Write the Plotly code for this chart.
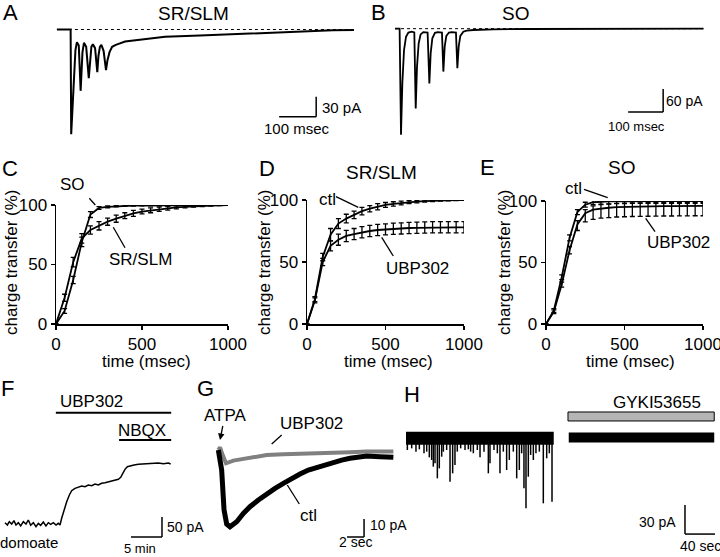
import plotly.graph_objects as go

W, H = 720, 557
FONT = "Arial, Liberation Sans, sans-serif"

# ---- A: SR/SLM evoked train (msec, pA)
a_time_ms = [-38, -1, 0.5, 4, 8, 12, 16, 21, 26, 28, 31, 35, 41, 48, 51, 55, 59, 65, 71, 74,
             78, 82, 88, 94.5, 98.5, 104, 111, 121, 146, 186, 254, 348, 437, 529, 618, 707, 764]
a_current_pa = [0, 0, -157, -121, -61, -31, -19, -24, -92, -61, -34, -20, -26, -73, -46, -26, -22, -28, -64, -40,
                -26, -23, -32, -61, -46, -34, -26, -23, -18, -15, -11, -9, -7, -4.5, -2.5, -1.3, -0.7]

# ---- B: SO evoked train (msec, pA)
b_time_ms = [-17, -4, 0, 3.8, 8.6, 14.3, 21, 30.5, 38, 42, 45.7, 50.5, 56, 63.8, 76, 81, 84.8, 89.5, 97, 105,
             117, 121, 124.8, 129.5, 137, 145, 157, 161, 164.8, 169.5, 178, 187.6, 206.7, 264, 359, 549.5, 864]
b_current_pa = [0, 0, -277, -143, -56, -21, -10, -8, -10, -208, -99, -38, -15, -9, -10, -143, -64, -25, -11, -9,
                -10, -112, -47, -19, -10, -9, -10, -103, -47, -19, -8, -5, -3.5, -1.7, -0.9, 0, 0]

# ---- C, D, E: cumulative charge transfer (%)
t_ms = [0, 50, 100, 150, 200, 250, 300, 350, 400, 450, 500, 550, 600, 650, 700, 750, 800, 850, 900, 950, 1000]

c_so = [0, 11, 37, 69, 92, 97.5, 98.5, 99, 99.3, 99.5, 99.6, 99.7, 99.8, 99.9, 100, 100, 100, 100, 100, 100, 100]
c_so_err = [0, 2, 3, 4, 2.5, 1.2, 0.8, 0.6, 0.5, 0.5, 0.4, 0.4, 0.3, 0.3, 0.3, 0.2, 0.2, 0.2, 0.2, 0.1, 0]
c_sr = [0, 22, 52, 72, 79, 82.5, 86, 88.5, 91, 93, 94.5, 95.5, 96.5, 97.2, 98, 98.5, 99, 99.3, 99.6, 99.8, 100]
c_sr_err = [0, 3, 4, 4, 3.5, 3.5, 3, 3, 2.5, 2.5, 2, 2, 1.8, 1.5, 1.2, 1, 0.8, 0.6, 0.5, 0.3, 0.2]

d_ctl = [0, 20, 54, 72, 81, 85, 88, 91, 93, 94.6, 96, 96.8, 97.6, 98.2, 98.7, 99.1, 99.4, 99.7, 99.8, 99.9, 100]
d_ctl_err = [0, 2, 3, 5, 4, 3.5, 3, 3, 2.5, 2.5, 2, 1.8, 1.5, 1.2, 1, 0.8, 0.6, 0.5, 0.4, 0.3, 0.3]
d_ubp = [0, 19, 50, 63, 68, 71, 72.5, 74, 75, 75.8, 76.3, 76.8, 77.1, 77.4, 77.6, 77.8, 78, 78, 78, 78, 78]
d_ubp_err = [0, 2, 3, 4, 4.5, 4.5, 4.5, 4.5, 4.5, 4.5, 4.5, 4.5, 4.5, 4.5, 4.5, 4.5, 4.5, 4.5, 4.5, 4.5, 4.5]

e_ctl = [0, 11, 38, 70, 91, 97, 99, 99.5, 99.7, 99.8, 99.9, 100, 100, 100, 100, 100, 100, 100, 100, 100, 100]
e_ctl_err = [0, 1.5, 2, 2.5, 2, 2, 2, 2, 2, 2, 2, 2, 2, 2, 2, 2, 2, 2, 2, 2, 2]
e_ubp = [0, 10, 32, 60, 81, 90, 93, 94, 94.5, 95, 95.2, 95.4, 95.5, 95.6, 95.7, 95.8, 95.8, 95.9, 95.9, 96, 96]
e_ubp_err_up = [0, 1.5, 2, 3, 3, 3, 3, 3, 3, 3, 3, 3, 3, 3, 3, 3, 3, 3, 3, 3, 3]
e_ubp_err_down = [0, 1.5, 2, 3, 5, 7, 8, 8, 8, 8, 8, 8, 8, 8, 8, 8, 8, 8, 8, 8, 8]

# ---- F: domoate current (min, pA)
f_time_min = [0, 0.38, 0.70, 1.08, 1.45, 1.77, 2.15, 2.53, 2.96, 3.39, 3.76, 4.14, 4.57, 5.0, 5.38, 5.75,
              6.18, 6.61, 6.99, 7.37, 7.80, 8.23, 8.60, 8.87, 9.14, 9.52, 9.95, 10.38, 10.75, 11.29, 11.83,
              12.37, 12.90, 13.44, 13.98, 14.52, 15.05, 15.59, 16.13, 16.67, 17.20, 17.74, 18.28, 18.66,
              18.98, 19.35, 19.73, 20.27, 20.81, 21.51, 22.31, 23.12, 23.92, 24.73, 25.54, 26.34, 26.72]
f_current_pa = [0.8, -5, 3.3, -2.5, 5.8, -5, 0.8, -7.5, 3.3, -2.5, 7.5, -5.8, 0.8, -9.2, -0.8, -5.8,
                2.5, -7.5, 0.8, -3.3, 0.8, -5, -0.8, -5, 11.7, 32.5, 53.3, 70, 80.8, 86.7, 89.2,
                92.5, 90.8, 95, 93.3, 97.5, 95, 99.2, 100.8, 103.3, 105.8, 107.5, 109.2, 114.2,
                124.2, 134.2, 140.8, 143.3, 145, 146.7, 147.5, 149.2, 148.3, 150, 148.3, 150, 147.5]
f_ubp_on, f_nbqx_on, f_drug_off = 8.2, 18.4, 26.8

# ---- G: ATPA responses (sec, pA)
g_time_s = [0.04, 0.43, 0.71, 1.02, 1.41, 2.20, 2.98, 3.76, 4.75, 5.73, 6.71, 7.69, 8.67, 9.65,
            10.63, 11.61, 12.59, 13.57, 14.55, 15.53, 16.51, 17.49, 19.06, 20.63]
g_ctl_pa = [0, -11.1, -33.3, -41.1, -42.6, -39.8, -35.2, -31.5, -27.8, -24.4, -21.3, -18.5, -15.7, -13.3,
            -11.1, -9.6, -8.3, -6.9, -5.6, -4.6, -3.7, -3.3, -3.7, -4.1]
g_ubp_time_s = [0.04, 0.24, 0.55, 0.94, 1.80, 3.76, 5.73, 7.69, 9.65, 11.61, 13.57, 15.53, 17.49, 20.63]
g_ubp_pa = [0, 1.5, -2.8, -7.4, -5.9, -4.1, -2.8, -2.3, -1.9, -1.7, -1.5, -1.2, -0.9, -0.9]

# ---- H: spontaneous events (sec, pA)
h_left_t = [0, 197]
h_right_t = [217, 411]
h_event_t = [1.8, 7.6, 13.3, 17.8, 24, 27.6, 31.1, 34.2, 36.4, 38.7, 41.8, 44.4, 47.6, 49.8, 54.2, 58.7,
             62.2, 65.3, 68.4, 72.9, 78.7, 83.1, 86.2, 89.8, 95.1, 98.7, 104, 109.8, 112, 117.3, 121.8,
             125.3, 129.8, 134.2, 137.8, 143.1, 147.6, 151.1, 154.2, 157.3, 160, 163.1, 166.2, 169.8,
             173.3, 177.8, 183.1, 187.6, 191.1, 194.7]
h_event_pa = [-12.1, -10.4, -13.8, -11.4, -15.5, -13.8, -19.7, -22.4, -29.3, -25.9, -41.4, -31.1, -19, -13.8,
              -12.1, -44.9, -36.2, -27.6, -13.8, -10.4, -12.1, -11.4, -13.8, -15.5, -12.1, -19.7, -13.8,
              -36.2, -25.9, -12.1, -15.5, -36.2, -13.8, -32.8, -22.4, -13.8, -41.4, -32.8, -15.5, -51.7,
              -72.4, -39.7, -17.2, -22.4, -15.5, -13.8, -67.2, -20.7, -15.5, -65.5]
h_gyki_on, h_gyki_off = 216, 411


def dom_x(x0, x1):
    return [x0 / W, x1 / W]


def dom_y(y0, y1):
    return [1 - y1 / H, 1 - y0 / H]


def ref(n):
    return ("x", "y") if n == 1 else (f"x{n}", f"y{n}")


layout_axes = {}


def hidden(n, xb, yb, xr, yr):
    xa, ya = ("xaxis", "yaxis") if n == 1 else (f"xaxis{n}", f"yaxis{n}")
    xr_, yr_ = ref(n)
    layout_axes[xa] = dict(domain=dom_x(*xb), range=xr, visible=False, anchor=yr_,
                           fixedrange=True, automargin=False)
    layout_axes[ya] = dict(domain=dom_y(*yb), range=yr, visible=False, anchor=xr_,
                           fixedrange=True, automargin=False)


def shown(n, xb, yb):
    xa, ya = f"xaxis{n}", f"yaxis{n}"
    xr_, yr_ = ref(n)
    common = dict(showline=True, linewidth=1.5, linecolor="black", ticks="outside", ticklen=4,
                  tickwidth=1.5, tickcolor="black", showgrid=False, zeroline=False, automargin=False,
                  ticklabeloverflow="allow", fixedrange=True,
                  tickfont=dict(size=17, family=FONT, color="black"))
    layout_axes[xa] = dict(domain=dom_x(*xb), range=[0, 1000], tickvals=[0, 500, 1000],
                           anchor=yr_, ticklabelstandoff=0, **common)
    layout_axes[ya] = dict(domain=dom_y(*yb), range=[0, 100], tickvals=[0, 50, 100],
                           anchor=xr_, **common)


hidden(1, (50, 360), (0, 140), [-56.7, 780.3], [-165.75, 44.25])
hidden(2, (370, 720), (0, 140), [-88.6, 911.4], [-290.5, 74.8])
shown(3, (56, 228), (205, 324))
shown(4, (307, 464), (200, 324))
shown(5, (546, 703), (201, 324))
hidden(6, (0, 200), (370, 557), [-0.806, 31.45], [-85, 382.5])
hidden(7, (200, 400), (370, 557), [-2.12, 21.41], [-59.4, 44.4])
hidden(8, (400, 720), (370, 557), [-8, 418.7], [-122.7, 70.6])

fig = go.Figure()


def line(n, x, y, width=1.8, color="black", dash=None):
    xr_, yr_ = ref(n)
    fig.add_trace(go.Scatter(x=x, y=y, xaxis=xr_, yaxis=yr_, mode="lines",
                             line=dict(color=color, width=width, dash=dash), hoverinfo="skip"))


def curve(n, y, err, err_minus=None):
    xr_, yr_ = ref(n)
    e = dict(type="data", array=err, visible=True, color="black", thickness=1.3, width=2.5)
    if err_minus is not None:
        e.update(symmetric=False, arrayminus=err_minus)
    fig.add_trace(go.Scatter(x=t_ms, y=y, xaxis=xr_, yaxis=yr_, mode="lines",
                             line=dict(color="black", width=1.8), error_y=e))


# A / B traces with dotted baselines
line(1, [a_time_ms[0], a_time_ms[-1]], [0, 0], width=1, dash="dot")
line(1, a_time_ms, a_current_pa, width=2)
line(2, [b_time_ms[0], b_time_ms[-1]], [0, 0], width=1, dash="dot")
line(2, b_time_ms, b_current_pa, width=1.8)

# C, D, E
curve(3, c_so, c_so_err)
curve(3, c_sr, c_sr_err)
curve(4, d_ctl, d_ctl_err)
curve(4, d_ubp, d_ubp_err)
curve(5, e_ctl, e_ctl_err)
curve(5, e_ubp, e_ubp_err_up, e_ubp_err_down)

# F
line(6, f_time_min, f_current_pa, width=1.5)

# G
line(7, g_ubp_time_s, g_ubp_pa, width=4, color="#808080")
line(7, g_time_s, g_ctl_pa, width=5)

# H: baseline bands plus individual events
line(8, h_left_t, [0, 0], width=13)
line(8, h_right_t, [0.8, 0.8], width=10)
ev_x, ev_y = [], []
for t, a in zip(h_event_t, h_event_pa):
    ev_x += [t, t, None]
    ev_y += [0, a, None]
line(8, ev_x, ev_y, width=1.5)

shapes = []


def seg(n, x0, y0, x1, y1, width=1.5, color="black"):
    xr_, yr_ = ref(n)
    shapes.append(dict(type="line", xref=xr_, yref=yr_, x0=x0, y0=y0, x1=x1, y1=y1,
                       line=dict(color=color, width=width)))


def scalebar(n, x0, y0, dx, dy):
    seg(n, x0, y0, x0 + dx, y0)
    seg(n, x0 + dx, y0, x0 + dx, y0 + dy)


def pseg(x0, y0, x1, y1, width=1.3):
    shapes.append(dict(type="line", xref="paper", yref="paper", x0=x0 / W, y0=1 - y0 / H,
                       x1=x1 / W, y1=1 - y1 / H, line=dict(color="black", width=width)))


# scale bars (bottom-left corner, then length in data units)
scalebar(1, 562, -131, 100, 30)
scalebar(2, 649, -217.4, 100, 60)
scalebar(6, 20.32, -35, 5, 50)
scalebar(7, 15.18, -48.3, 2, 10)
seg(8, 372, -69, 372, -99)
seg(8, 372, -99, 412, -99)

# drug application bars
seg(6, f_ubp_on, 275.75, f_drug_off, 275.75, width=2)
seg(6, f_nbqx_on, 207.5, f_drug_off, 207.5, width=2)
shapes.append(dict(type="rect", xref="x8", yref="y8", x0=h_gyki_on, x1=h_gyki_off, y0=17.9, y1=27.2,
                   fillcolor="#b5b5b5", line=dict(color="black", width=1)))

# pointer lines for labels
pseg(89.3, 198.3, 95.3, 205)
pseg(113.3, 227.3, 125, 247.7)
pseg(336, 196.7, 358.3, 207.3)
pseg(381.7, 237.3, 393.3, 256)
pseg(584, 189.3, 607.7, 197.7)
pseg(645.7, 218.3, 655, 231.7)
pseg(281.7, 435, 271.7, 444)
pseg(287.3, 485, 299.3, 504)

annotations = []


def label(text, x, y, size=17, xanchor="center", angle=0):
    annotations.append(dict(text=text, x=x / W, y=1 - y / H, xref="paper", yref="paper",
                            xanchor=xanchor, yanchor="middle", showarrow=False, textangle=angle,
                            font=dict(size=size, family=FONT, color="black")))


# panel letters
for letter, x, y in [("A", 10, 12), ("B", 378, 12), ("C", 10, 168), ("D", 267, 168),
                     ("E", 487, 167), ("F", 7, 389), ("G", 205, 389), ("H", 412, 394)]:
    label(letter, x, y, size=22)

# titles
label("SR/SLM", 193, 13, size=19)
label("SO", 515, 13, size=19)
label("SR/SLM", 381, 172, size=19)
label("SO", 621, 167, size=19)

# axis titles for C, D, E
for x_title, x_ylab in [(146, 12), (388, 265), (630, 505)]:
    label("time (msec)", x_title, 361)
    label("charge transfer (%)", x_ylab, 262, angle=-90)

# curve labels
label("SO", 72.5, 184)
label("SR/SLM", 140, 259)
label("ctl", 327.5, 199)
label("UBP302", 417.5, 268)
label("ctl", 573, 189)
label("UBP302", 678, 242)

# scale-bar labels
label("30 pA", 320, 107.5, size=15, xanchor="left")
label("100 msec", 297, 128, size=15)
label("60 pA", 664, 101, size=14, xanchor="left")
label("100 msec", 636, 126, size=13)
label("50 pA", 165, 527, size=14, xanchor="left")
label("5 min", 140, 548, size=13)
label("10 pA", 368, 525, size=14, xanchor="left")
label("2 sec", 355, 542, size=14)
label("30 pA", 657, 522, size=14)
label("40 sec", 700, 546, size=14)

# panel F / G / H texts
label("UBP302", 91, 401)
label("NBQX", 142, 430)
label("domoate", 29, 542, size=15)
label("UBP302", 311, 423)
label("ctl", 308, 515)
label("GYKI53655", 657, 402)
annotations.append(dict(text="ATPA", x=220 / W, y=1 - 440 / H, xref="paper", yref="paper",
                        showarrow=True, arrowhead=2, arrowsize=1, arrowwidth=1.3, arrowcolor="black",
                        ax=5, ay=-25, font=dict(size=17, family=FONT, color="black")))

fig.update_layout(
    width=W, height=H,
    margin=dict(l=0, r=0, t=0, b=0),
    paper_bgcolor="white", plot_bgcolor="white",
    showlegend=False,
    hovermode=False,
    font=dict(family=FONT, color="black"),
    shapes=shapes,
    annotations=annotations,
    **layout_axes,
)

# the page body has a default 8px margin; drop it so the figure fills the window
fig.write_html("out.html", config={"displayModeBar": False, "staticPlot": True},
               post_script="document.body.style.margin='0';")
